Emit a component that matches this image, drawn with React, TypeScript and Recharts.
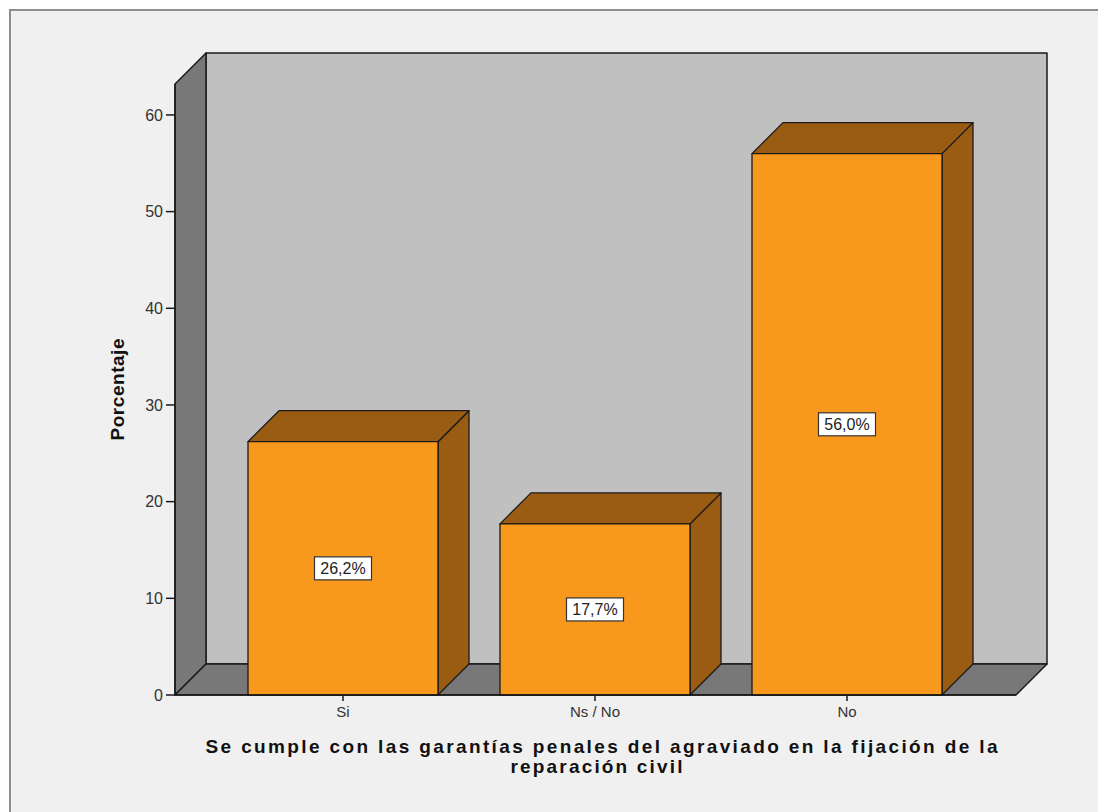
import { BarChart, Bar, XAxis, YAxis, ReferenceArea, LabelList, Label } from "recharts";

const categories = ["Si", "Ns / No", "No"];
const percentages = [26.2, 17.7, 56.0];
const yTicks = [0, 10, 20, 30, 40, 50, 60];
const Y_MAX = 63.2;

const data = categories.map((name, i) => ({ name, value: percentages[i] }));

// depth of the fake 3D box (px)
const DX = 31;
const DY = 31;
const PAD_L = 42;
const PAD_R = 43;

const FONT = '"Liberation Sans", Arial, sans-serif';
const EDGE = "#1a1a1a";

function Walls(props: any) {
  const { x, y, width, height } = props;
  const L = x - PAD_L;
  const R = x + width + PAD_R;
  const T = y;
  const B = y + height;
  return (
    <g stroke={EDGE} strokeWidth={1.5} strokeLinejoin="round">
      <rect x={L + DX} y={T - DY} width={R - L} height={B - T} fill="#c0c0c0" />
      <polygon
        points={`${L},${T} ${L + DX},${T - DY} ${L + DX},${B - DY} ${L},${B}`}
        fill="#787878"
      />
      <polygon
        points={`${L},${B} ${L + DX},${B - DY} ${R + DX},${B - DY} ${R},${B}`}
        fill="#787878"
      />
    </g>
  );
}

function Bar3D(props: any) {
  const { x, y, width, height } = props;
  const w = width;
  const h = height;
  return (
    <g stroke={EDGE} strokeWidth={1.3} strokeLinejoin="round">
      <polygon
        points={`${x + w},${y} ${x + w + DX},${y - DY} ${x + w + DX},${y + h - DY} ${x + w},${y + h}`}
        fill="#9a5c13"
      />
      <polygon
        points={`${x},${y} ${x + DX},${y - DY} ${x + w + DX},${y - DY} ${x + w},${y}`}
        fill="#9a5c13"
      />
      <rect x={x} y={y} width={w} height={h} fill="#f8991e" />
    </g>
  );
}

function ValueLabel(props: any) {
  const { x, y, width, height, value } = props;
  const cx = x + width / 2;
  const cy = y + height / 2;
  const txt = Number(value).toFixed(1).replace(".", ",") + "%";
  const bw = 57;
  const bh = 23;
  return (
    <g>
      <rect x={cx - bw / 2} y={cy - bh / 2} width={bw} height={bh} fill="#ffffff" stroke="#333" strokeWidth={1.2} />
      <text x={cx} y={cy + 5.5} textAnchor="middle" fontFamily={FONT} fontSize={16} fill="#222">
        {txt}
      </text>
    </g>
  );
}

function XTitle(props: any) {
  const { viewBox } = props;
  const cx = viewBox.x + viewBox.width / 2;
  const top = viewBox.y;
  return (
    <g fontFamily={FONT} fontSize={19} fontWeight="bold" fill="#111">
      <text x={cx + 6} y={top + 58} textAnchor="middle" textLength={792} lengthAdjust="spacing">
        Se cumple con las garantías penales del agraviado en la fijación de la
      </text>
      <text x={cx + 1} y={top + 78} textAnchor="middle" textLength={172} lengthAdjust="spacing">
        reparación civil
      </text>
    </g>
  );
}

function YTitle(props: any) {
  const { viewBox } = props;
  const x = viewBox.x + 9;
  const cy = viewBox.y + viewBox.height / 2;
  return (
    <text
      transform={`translate(${x},${cy}) rotate(-90)`}
      x={0}
      y={0}
      textAnchor="middle"
      fontFamily={FONT}
      fontSize={19}
      fontWeight="bold"
      fill="#111"
      textLength={102}
      lengthAdjust="spacing"
    >
      Porcentaje
    </text>
  );
}

export default function App() {
  return (
    <div style={{ position: "relative", width: 1098, height: 804, overflow: "hidden" }}>
      <div
        style={{
          position: "absolute",
          left: 1,
          top: 1,
          width: 1200,
          height: 900,
          background: "#f0f0f0",
          border: "2px solid #8e8e8e",
        }}
      />
      <div style={{ position: "absolute", left: 0, top: 0 }}>
        <BarChart
          width={1098}
          height={804}
          data={data}
          margin={{ top: 76, right: 90, bottom: 77, left: 107 }}
        >
          <ReferenceArea
            x1="Si"
            x2="No"
            y1={0}
            y2={Y_MAX}
            shape={(p: any) => <Walls {...p} />}
          />
          <XAxis
            dataKey="name"
            height={40}
            padding={{ left: PAD_L, right: PAD_R }}
            tickSize={6}
            tickMargin={5}
            axisLine={{ stroke: EDGE, strokeWidth: 1.5 }}
            tickLine={{ stroke: EDGE, strokeWidth: 1.5 }}
            tick={{ fontFamily: FONT, fontSize: 15, fill: "#333" }}
          >
            <Label content={(p: any) => <XTitle {...p} />} />
          </XAxis>
          <YAxis
            width={60}
            domain={[0, Y_MAX]}
            ticks={yTicks}
            tickSize={9}
            tickMargin={3}
            axisLine={{ stroke: EDGE, strokeWidth: 1.5 }}
            tickLine={{ stroke: EDGE, strokeWidth: 1.5 }}
            tick={{ fontFamily: FONT, fontSize: 16, fill: "#333" }}
          >
            <Label content={(p: any) => <YTitle {...p} />} />
          </YAxis>
          <Bar
            dataKey="value"
            barSize={190}
            isAnimationActive={false}
            shape={(p: any) => <Bar3D {...p} />}
          >
            <LabelList dataKey="value" content={(p: any) => <ValueLabel {...p} />} />
          </Bar>
        </BarChart>
      </div>
    </div>
  );
}
